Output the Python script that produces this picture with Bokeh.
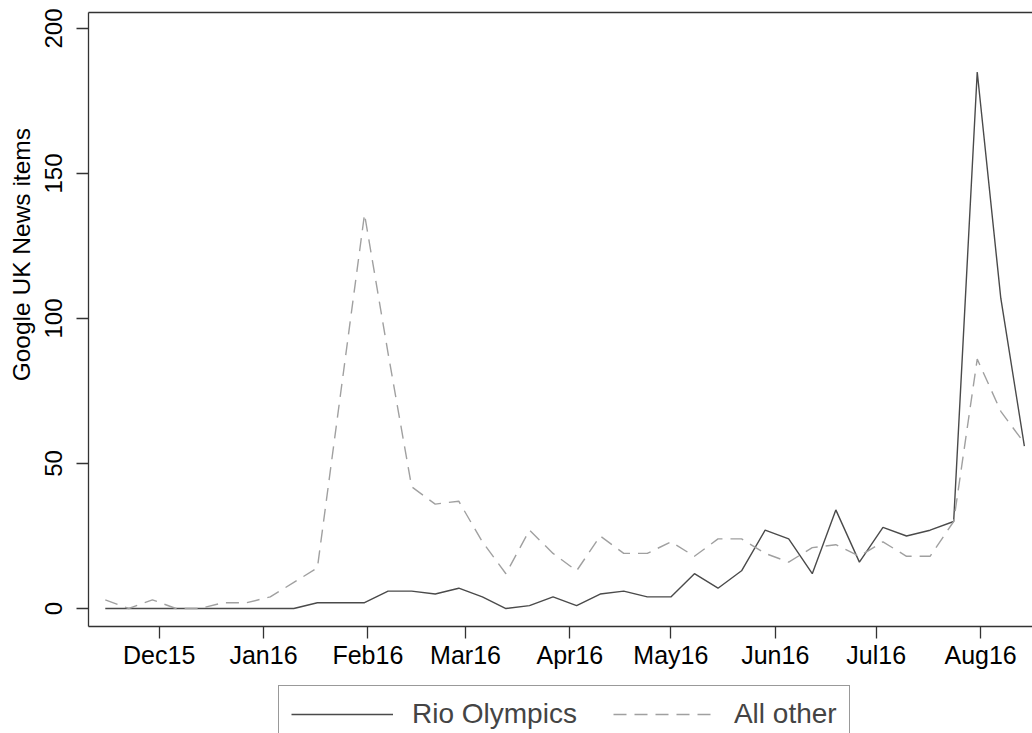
import math
from datetime import datetime
import pandas as pd
from bokeh.plotting import figure
from bokeh.models import (ColumnDataSource, Range1d, FixedTicker, DatetimeTickFormatter,
                          Legend, LegendItem, Label, LinearAxis)
from bokeh.embed import file_html
from bokeh.resources import INLINE

# ---- data (weekly counts) ----
week_start = "2015-11-15"
n_weeks = 40
rio_olympics = [0, 0, 0, 0, 0, 0, 0, 0, 0, 2, 2, 2, 6, 6, 5, 7, 4, 0, 1, 4,
                1, 5, 6, 4, 4, 12, 7, 13, 27, 24, 12, 34, 16, 28, 25, 27, 30, 185, 107, 56]
all_other = [3, 0, 3, 0, 0, 2, 2, 4, 9, 14, 75, 136, 88, 42, 36, 37, 23, 12, 27, 19,
             13, 25, 19, 19, 23, 18, 24, 24, 19, 16, 21, 22, 18, 23, 18, 18, 30, 86, 68, 57]
month_ticks = ["2015-12-01", "2016-01-01", "2016-02-01", "2016-03-01", "2016-04-01",
               "2016-05-01", "2016-06-01", "2016-07-01", "2016-08-01"]
y_ticks = [0, 50, 100, 150, 200]
series_names = ["Rio Olympics", "All other"]
y_title = "Google UK News items"

weeks = pd.date_range(week_start, periods=n_weeks, freq="7D")
src = ColumnDataSource(dict(week=weeks, rio=rio_olympics, other=all_other))

def ms(s):
    return pd.Timestamp(s).value / 1e6

FONT = "Liberation Sans"
AX = "#333333"

# plot region of the chart (axes box) in data units
x_lo, x_hi = ms("2015-11-10"), ms("2016-08-16 10:00")
y_lo, y_hi = -6.2, 205.5

p = figure(width=1032, height=733, x_axis_type="datetime",
           x_range=Range1d(ms("2015-10-14 21:00"), x_hi),
           y_range=Range1d(-43.1, 209.66),
           output_backend="svg", toolbar_location=None,
           min_border_left=0, min_border_right=0, min_border_top=0, min_border_bottom=0)
p.background_fill_color = "white"
p.border_fill_color = "white"
p.outline_line_color = None
p.grid.visible = False

p.xaxis.ticker = FixedTicker(ticks=[ms(t) for t in month_ticks])
p.xaxis.formatter = DatetimeTickFormatter(days="%b%y", months="%b%y", years="%b%y")
p.yaxis.ticker = FixedTicker(ticks=y_ticks)

for ax in (p.xaxis[0], p.yaxis[0]):
    ax.axis_line_color = AX
    ax.axis_line_width = 1.3
    ax.major_tick_line_color = AX
    ax.major_tick_line_width = 1.3
    ax.major_tick_out = 12
    ax.major_tick_in = 0
    ax.minor_tick_line_color = None
    ax.major_label_text_font = FONT
    ax.major_label_text_color = "black"
p.xaxis.fixed_location = y_lo
p.xaxis.bounds = (x_lo, x_hi)
p.yaxis.fixed_location = x_lo
p.yaxis.bounds = (y_lo, y_hi)
p.xaxis.major_label_text_font_size = "25px"
p.xaxis.major_label_standoff = 3
p.yaxis.major_label_text_font_size = "24px"
p.yaxis.major_label_orientation = "parallel"
p.yaxis.major_label_standoff = 14

# top border line of the axes box
top = LinearAxis(ticker=FixedTicker(ticks=[]), major_tick_out=0, major_tick_in=0,
                 minor_tick_out=0, minor_tick_in=0, major_label_standoff=0,
                 major_label_text_font_size="0px", axis_line_color=AX, axis_line_width=1.3,
                 fixed_location=y_hi, bounds=(x_lo, x_hi))
p.add_layout(top, "above")

r1 = p.line("week", "rio", source=src, line_color="#4a4a4a", line_width=1.4)
r2 = p.line("week", "other", source=src, line_color="#a0a0a0", line_width=1.4,
            line_dash="13 8")

# y-axis title
p.add_layout(Label(x=ms("2015-10-21 00:00"), y=122, text=y_title,
                   angle=math.pi / 2, text_align="center", text_baseline="middle",
                   text_font=FONT, text_font_size="24.5px", text_color="black"))

legend = Legend(items=[LegendItem(label=series_names[0], renderers=[r1]),
                       LegendItem(label=series_names[1], renderers=[r2])],
                orientation="horizontal", location=(278, -10),
                label_text_font=FONT, label_text_font_size="28px",
                glyph_width=102, glyph_height=20, label_standoff=19, spacing=36,
                padding=12, margin=0, border_line_color=AX, border_line_width=1.3,
                background_fill_color="white", background_fill_alpha=1.0)
p.add_layout(legend, "center")

open("out.html", "w").write(file_html(p, INLINE))
